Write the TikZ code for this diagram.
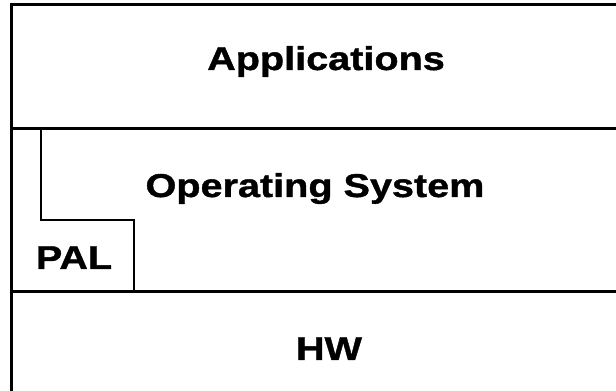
\documentclass[tikz,border=0pt]{standalone}
\usepackage{fontspec}
\newfontfamily\layerfont{Liberation Sans}[FakeStretch=1.2,FakeBold=1.2]
\usetikzlibrary{positioning}

\begin{document}
\begin{tikzpicture}[x=1pt,y=1pt,
    layer/.style={font=\layerfont\bfseries\fontsize{33}{33}\selectfont,anchor=base,inner sep=0pt},
    frame/.style={line width=3pt},
    step line/.style={line width=2pt}]
\useasboundingbox (0,0) rectangle (616,391);

% layer borders
\draw[frame] (11,0) -- (11,386) -- (616,386);
\draw[frame] (11,262) -- (616,262);
\draw[frame] (11,99) -- (616,99);

% PAL corner inside the OS layer
\draw[step line] (41,262) -- (41,171) -- (134,171) -- (134,99);

\node[layer] (apps) at (326,321) {Applications};
\node[layer] (os) at (315,194) {Operating System};
\node[layer] (pal) at (74,122) {PAL};
\node[layer] (hw) at (329,31) {HW};
\end{tikzpicture}
\end{document}
